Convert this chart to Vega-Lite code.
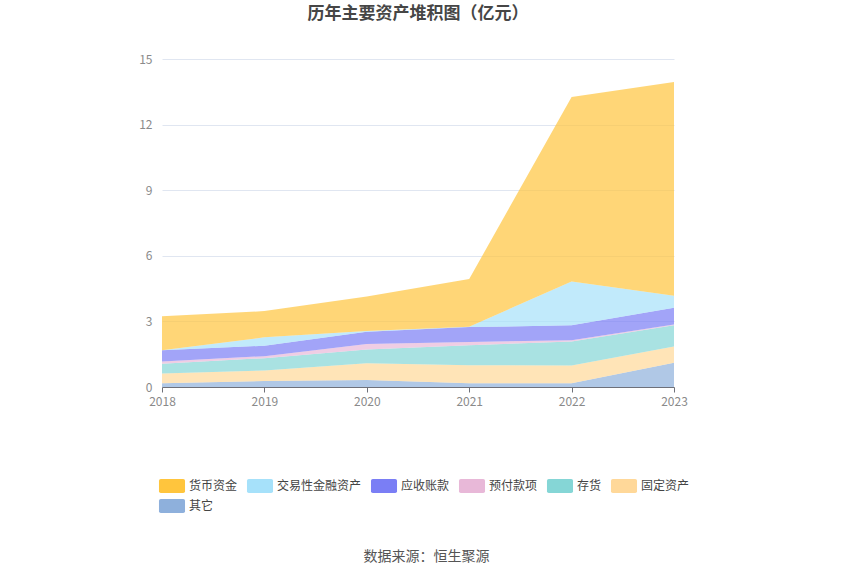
{
  "$schema": "https://vega.github.io/schema/vega-lite/v6.json",
  "autosize": {"type": "none"},
  "width": 512,
  "height": 328,
  "padding": {"left": 162, "top": 59, "right": 176, "bottom": 188},
  "background": "white",
  "title": {
    "text": "历年主要资产堆积图（亿元）",
    "anchor": "middle",
    "offset": 30,
    "font": "Noto Sans CJK SC",
    "fontSize": 17,
    "fontWeight": "bold",
    "color": "#464646"
  },
  "config": {
    "font": "Noto Sans CJK SC",
    "view": {"stroke": null}
  },
  "data": {
    "values": [
      {"year": "2018", "type": "其它", "value": 0.17},
      {"year": "2018", "type": "固定资产", "value": 0.45},
      {"year": "2018", "type": "存货", "value": 0.44},
      {"year": "2018", "type": "预付款项", "value": 0.11},
      {"year": "2018", "type": "应收账款", "value": 0.51},
      {"year": "2018", "type": "交易性金融资产", "value": 0.0},
      {"year": "2018", "type": "货币资金", "value": 1.55},
      {"year": "2019", "type": "其它", "value": 0.27},
      {"year": "2019", "type": "固定资产", "value": 0.49},
      {"year": "2019", "type": "存货", "value": 0.56},
      {"year": "2019", "type": "预付款项", "value": 0.09},
      {"year": "2019", "type": "应收账款", "value": 0.48},
      {"year": "2019", "type": "交易性金融资产", "value": 0.38},
      {"year": "2019", "type": "货币资金", "value": 1.2},
      {"year": "2020", "type": "其它", "value": 0.32},
      {"year": "2020", "type": "固定资产", "value": 0.77},
      {"year": "2020", "type": "存货", "value": 0.62},
      {"year": "2020", "type": "预付款项", "value": 0.26},
      {"year": "2020", "type": "应收账款", "value": 0.56},
      {"year": "2020", "type": "交易性金融资产", "value": 0.03},
      {"year": "2020", "type": "货币资金", "value": 1.58},
      {"year": "2021", "type": "其它", "value": 0.17},
      {"year": "2021", "type": "固定资产", "value": 0.83},
      {"year": "2021", "type": "存货", "value": 0.91},
      {"year": "2021", "type": "预付款项", "value": 0.15},
      {"year": "2021", "type": "应收账款", "value": 0.68},
      {"year": "2021", "type": "交易性金融资产", "value": 0.02},
      {"year": "2021", "type": "货币资金", "value": 2.18},
      {"year": "2022", "type": "其它", "value": 0.17},
      {"year": "2022", "type": "固定资产", "value": 0.81},
      {"year": "2022", "type": "存货", "value": 1.1},
      {"year": "2022", "type": "预付款项", "value": 0.06},
      {"year": "2022", "type": "应收账款", "value": 0.68},
      {"year": "2022", "type": "交易性金融资产", "value": 2.0},
      {"year": "2022", "type": "货币资金", "value": 8.44},
      {"year": "2023", "type": "其它", "value": 1.11},
      {"year": "2023", "type": "固定资产", "value": 0.74},
      {"year": "2023", "type": "存货", "value": 0.97},
      {"year": "2023", "type": "预付款项", "value": 0.04},
      {"year": "2023", "type": "应收账款", "value": 0.76},
      {"year": "2023", "type": "交易性金融资产", "value": 0.55},
      {"year": "2023", "type": "货币资金", "value": 9.78}
    ]
  },
  "transform": [
    {"calculate": "indexof(['其它','固定资产','存货','预付款项','应收账款','交易性金融资产','货币资金'], datum.type)", "as": "stackOrder"}
  ],
  "mark": {"type": "area", "opacity": 0.7},
  "encoding": {
    "x": {
      "field": "year",
      "type": "ordinal",
      "scale": {"type": "point", "padding": 0},
      "axis": {
        "labelAngle": 0,
        "labelColor": "#8a8a8a",
        "labelFontSize": 12,
        "labelPadding": 4,
        "domainColor": "#6E7079",
        "tickColor": "#6E7079",
        "tickSize": 5,
        "grid": false,
        "title": "数据来源：恒生聚源",
        "titleColor": "#555",
        "titleFontSize": 14,
        "titleFontWeight": "normal",
        "titlePadding": 142,
        "titleX": 264
      }
    },
    "y": {
      "field": "value",
      "type": "quantitative",
      "stack": "zero",
      "scale": {"domain": [0, 15]},
      "axis": {
        "values": [0, 3, 6, 9, 12, 15],
        "title": null,
        "domain": false,
        "ticks": false,
        "labelColor": "#8a8a8a",
        "labelFontSize": 12,
        "labelPadding": 10,
        "gridColor": "#E0E6F1"
      }
    },
    "color": {
      "field": "type",
      "type": "nominal",
      "scale": {
        "domain": ["货币资金", "交易性金融资产", "应收账款", "预付款项", "存货", "固定资产", "其它"],
        "range": ["#FFC53D", "#A6E1FA", "#7A7EF5", "#E8B8D8", "#85D6D6", "#FFD899", "#8EB0DC"]
      },
      "legend": {
        "orient": "none",
        "legendX": 3,
        "legendY": 420,
        "direction": "horizontal",
        "columns": 6,
        "gridAlign": "none",
        "title": null,
        "symbolType": "M-1.6,-1H1.6Q1.86,-1 1.86,-0.74V0.74Q1.86,1 1.6,1H-1.6Q-1.86,1 -1.86,0.74V-0.74Q-1.86,-1 -1.6,-1Z",
        "symbolSize": 196,
        "symbolOpacity": 1,
        "symbolStrokeWidth": 0,
        "labelFontSize": 12,
        "labelColor": "#444",
        "labelOffset": 10,
        "columnPadding": 8,
        "rowPadding": 6
      }
    },
    "order": {"field": "stackOrder", "type": "quantitative"}
  }
}
